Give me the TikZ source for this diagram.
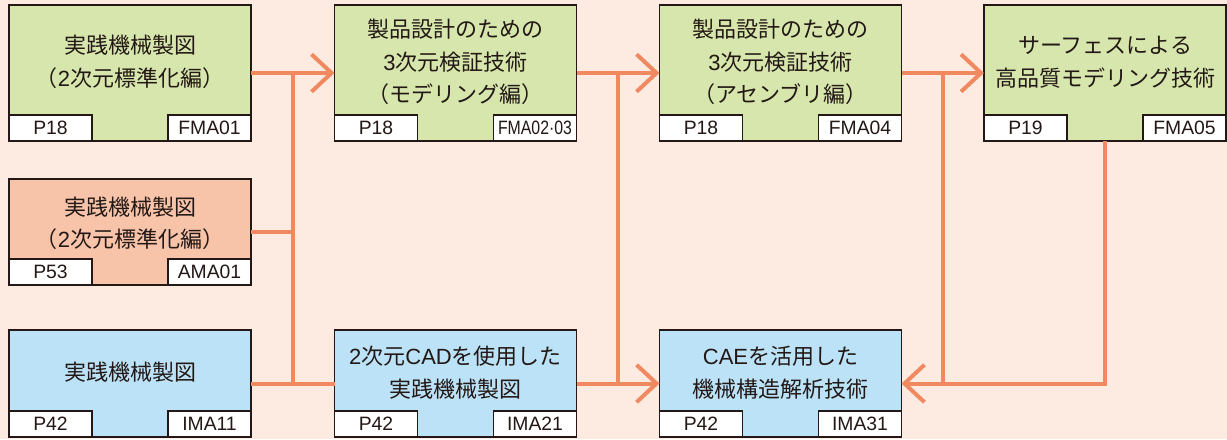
\documentclass[tikz,border=0pt]{standalone}
\usepackage{fontspec}
\setmainfont{Noto Sans CJK JP}
\newfontfamily\latf{Liberation Sans}
\usetikzlibrary{arrows.meta,calc}
\definecolor{bg}{RGB}{253,235,226}
\definecolor{gfill}{RGB}{214,230,172}
\definecolor{sfill}{RGB}{247,196,170}
\definecolor{bfill}{RGB}{187,226,247}
\definecolor{conn}{RGB}{240,136,96}
\definecolor{ink}{RGB}{35,24,21}
\newcommand{\latw}[1]{{\latf #1}}
\begin{document}
\begin{tikzpicture}[x=0.75pt,y=-0.75pt,
  box/.style={draw=ink,line width=1.1pt,inner sep=0pt,outer sep=0pt,minimum width=181.5pt},
  toprow/.style={box,fill=gfill,minimum height=102pt},
  midrow/.style={box,fill=sfill,minimum height=79.5pt},
  botrow/.style={box,fill=bfill,minimum height=80.25pt},
  maintext/.style={text=ink,align=center,inner sep=0pt,font=\fontsize{16.5pt}{24.5pt}\selectfont},
  tag/.style={draw=ink,line width=1.1pt,fill=white,inner sep=0pt,outer sep=0pt,
     minimum width=62.25pt,minimum height=19.5pt,text=ink,font=\fontsize{14.5pt}{16pt}\latf},
  tagl/.style={tag,anchor=south west},
  tagr/.style={tag,anchor=south east},
  cline/.style={draw=conn,line width=3pt,line join=miter},
  carrow/.style={cline,-{Straight Barb[length=15pt,width=28pt,line join=miter]}}
]
\path[use as bounding box,fill=bg] (0,0) rectangle (1227,439);

% boxes
\node[toprow] (g1) at (130,73) {};
\node[midrow] (s1) at (130,232) {};
\node[botrow] (b1) at (130,383.5) {};
\node[toprow] (g2) at (455.5,73) {};
\node[botrow] (b2) at (455.5,383.5) {};
\node[toprow] (g3) at (780.5,73) {};
\node[botrow] (b3) at (780.5,383.5) {};
\node[toprow] (g4) at (1105,73) {};

% texts
\node[maintext] (g1t) at ([yshift=8.25pt]g1.center) {実践機械製図\\（\latw{2}次元標準化編）};
\node[maintext] (s1t) at ([yshift=6.5pt]s1.center) {実践機械製図\\（\latw{2}次元標準化編）};
\node[maintext] (b1t) at ([yshift=8.25pt]b1.center) {実践機械製図};
\node[maintext] (g2t) at ([yshift=8.25pt]g2.center) {製品設計のための\\\latw{3}次元検証技術\\（モデリング編）};
\node[maintext] (b2t) at ([yshift=8.25pt]b2.center) {\latw{2}次元\latw{CAD}を使用した\\実践機械製図};
\node[maintext] (g3t) at ([yshift=8.25pt]g3.center) {製品設計のための\\\latw{3}次元検証技術\\（アセンブリ編）};
\node[maintext] (b3t) at ([yshift=8.25pt]b3.center) {\latw{CAE}を活用した\\機械構造解析技術};
\node[maintext] (g4t) at ([yshift=8.25pt]g4.center) {サーフェスによる\\高品質モデリング技術};

% tags
\node[tagl] (g1p) at (g1.south west) {P18};
\node[tagr] (g1c) at (g1.south east) {FMA01};
\node[tagl] (s1p) at (s1.south west) {P53};
\node[tagr] (s1c) at (s1.south east) {AMA01};
\node[tagl] (b1p) at (b1.south west) {P42};
\node[tagr] (b1c) at (b1.south east) {IMA11};
\node[tagl] (g2p) at (g2.south west) {P18};
\node[tagr] (g2c) at (g2.south east) {\scalebox{0.82}[1]{FMA02·03}};
\node[tagl] (b2p) at (b2.south west) {P42};
\node[tagr] (b2c) at (b2.south east) {IMA21};
\node[tagl] (g3p) at (g3.south west) {P18};
\node[tagr] (g3c) at (g3.south east) {FMA04};
\node[tagl] (b3p) at (b3.south west) {P42};
\node[tagr] (b3c) at (b3.south east) {IMA31};
\node[tagl] (g4p) at (g4.south west) {P19};
\node[tagr] (g4c) at (g4.south east) {FMA05};

% junction coordinates
\coordinate (j1) at ($(g1.east)!0.5!(g2.west)$);
\coordinate (j2) at ($(g2.east)!0.5!(g3.west)$);
\coordinate (j3) at ($(g3.east)!0.5!(g4.west)$);

% connectors
\draw[cline] (j1) -- (j1 |- b1.east);
\draw[cline] (j2) -- (j2 |- b3.west);
\draw[cline] (j3) -- (j3 |- b3.east);
\draw[carrow] (g1.east) -- (g2.west);
\draw[cline] (s1.east) -- (s1.east -| j1);
\draw[cline] (b1.east) -- (b2.west);
\draw[carrow] (g2.east) -- (g3.west);
\draw[carrow] (b2.east) -- (b3.west);
\draw[carrow] (g3.east) -- (g4.west);
\draw[carrow] (g4.south) |- (b3.east);
\end{tikzpicture}
\end{document}
